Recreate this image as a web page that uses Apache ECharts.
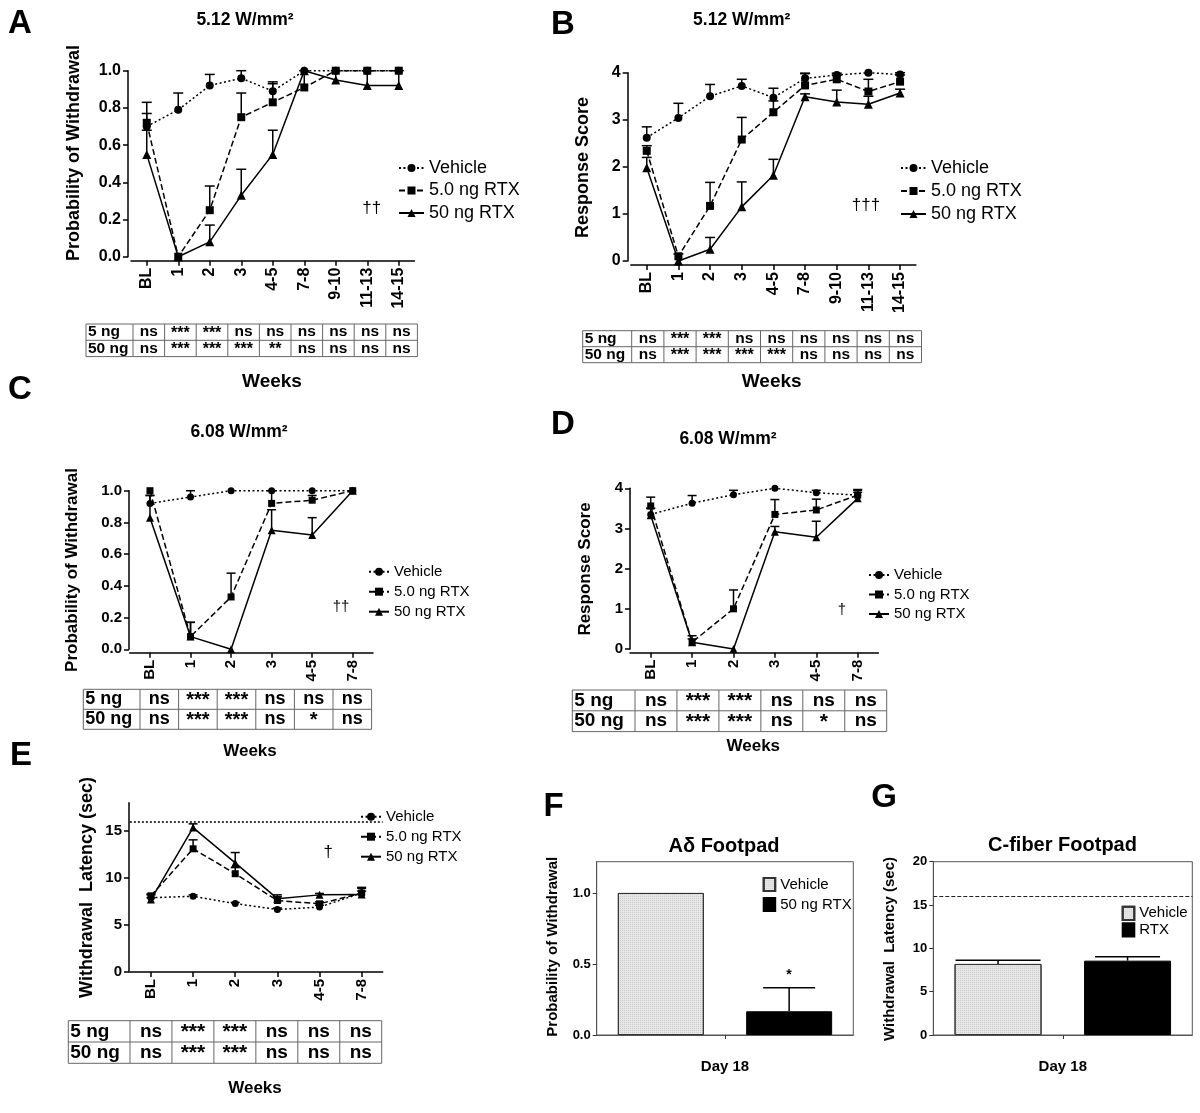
<!DOCTYPE html>
<html><head><meta charset="utf-8">
<script src="https://cdn.jsdelivr.net/npm/echarts@6/dist/echarts.min.js"></script>
<style>html,body{margin:0;padding:0;background:#fff}#c{width:1200px;height:1113px}</style>
</head><body><div id="c"></div>
<script>
// ================= DATA =================
const weeksLong = ['BL','1','2','3','4-5','7-8','9-10','11-13','14-15'];
const weeksShort = ['BL','1','2','3','4-5','7-8'];
const groupNames = ['Vehicle','5.0 ng RTX','50 ng RTX'];
const tableRowLabels = ['5 ng','50 ng'];

// Y tick labels
const probTicks = [0,0.2,0.4,0.6,0.8,1.0];
const scoreTicks = [0,1,2,3,4];
const latencyTicks = [0,5,10,15];
const F_ticks = [0,0.5,1.0];
const G_ticks = [0,5,10,15,20];

// Panel A – 5.12 W/mm², probability of withdrawal (mean, mean+SEM)
const A_vehicle    = [0.70,0.79,0.92,0.96,0.89,1.00,1.00,1.00,1.00];
const A_vehicleErr = [0.77,0.88,0.98,1.00,0.94,1.00,1.00,1.00,1.00];
const A_rtx5       = [0.72,0.00,0.25,0.75,0.83,0.91,1.00,1.00,1.00];
const A_rtx5Err    = [0.83,0.00,0.38,0.88,0.93,1.00,1.00,1.00,1.00];
const A_rtx50      = [0.55,0.00,0.08,0.33,0.55,1.00,0.95,0.92,0.92];
const A_rtx50Err   = [0.68,0.00,0.17,0.47,0.68,1.00,1.00,1.00,1.00];
const A_sig5  = ['ns','***','***','ns','ns','ns','ns','ns','ns'];
const A_sig50 = ['ns','***','***','***','**','ns','ns','ns','ns'];

// Panel B – 5.12 W/mm², response score
const B_vehicle    = [2.62,3.04,3.50,3.72,3.47,3.88,3.95,4.00,3.96];
const B_vehicleErr = [2.85,3.35,3.75,3.86,3.67,3.99,3.99,4.00,4.00];
const B_rtx5       = [2.34,0.10,1.17,2.58,3.16,3.73,3.86,3.60,3.81];
const B_rtx5Err    = [2.45,0.15,1.67,3.05,3.40,3.98,3.95,3.86,3.95];
const B_rtx50      = [1.98,0.00,0.25,1.15,1.82,3.49,3.38,3.33,3.57];
const B_rtx50Err   = [2.20,0.00,0.50,1.68,2.16,3.55,3.63,3.50,3.65];
const B_sig5  = ['ns','***','***','ns','ns','ns','ns','ns','ns'];
const B_sig50 = ['ns','***','***','***','***','ns','ns','ns','ns'];

// Panel C – 6.08 W/mm², probability of withdrawal
const C_vehicle    = [0.92,0.96,1.00,1.00,1.00,1.00];
const C_vehicleErr = [0.97,1.00,1.00,1.00,1.00,1.00];
const C_rtx5       = [1.00,0.08,0.33,0.92,0.94,1.00];
const C_rtx5Err    = [1.00,0.17,0.48,1.00,0.97,1.00];
const C_rtx50      = [0.83,0.08,0.00,0.75,0.72,1.00];
const C_rtx50Err   = [0.97,0.17,0.00,0.88,0.83,1.00];
const C_sig5  = ['ns','***','***','ns','ns','ns'];
const C_sig50 = ['ns','***','***','ns','*','ns'];

// Panel D – 6.08 W/mm², response score
const D_vehicle    = [3.35,3.63,3.84,4.00,3.89,3.83];
const D_vehicleErr = [3.50,3.82,3.95,4.00,3.95,3.95];
const D_rtx5       = [3.56,0.17,1.00,3.35,3.46,3.83];
const D_rtx5Err    = [3.78,0.33,1.47,3.72,3.73,3.97];
const D_rtx50      = [3.33,0.17,0.00,2.92,2.78,3.75];
const D_rtx50Err   = [3.50,0.25,0.00,3.05,3.18,3.90];
const D_sig5  = ['ns','***','***','ns','ns','ns'];
const D_sig50 = ['ns','***','***','ns','*','ns'];

// Panel E – withdrawal latency (sec)
const E_vehicle    = [7.90,8.05,7.27,6.65,6.90,8.40];
const E_vehicleErr = [8.20,8.20,7.40,6.80,7.10,8.60];
const E_rtx5       = [8.10,13.10,10.45,7.60,7.25,8.40];
const E_rtx5Err    = [8.30,14.05,11.10,8.00,7.45,8.90];
const E_rtx50      = [7.70,15.35,11.60,7.80,8.20,8.25];
const E_rtx50Err   = [7.90,15.75,12.70,8.20,8.35,9.00];
const E_cutoff = 16;
const E_sig5  = ['ns','***','***','ns','ns','ns'];
const E_sig50 = ['ns','***','***','ns','ns','ns'];

// Panel F – Aδ footpad, day 18
const F_groups = ['Vehicle','50 ng RTX'];
const F_values = [1.00, 0.167];
const F_errTop = [1.00, 0.333];
// Panel G – C-fiber footpad, day 18
const G_groups = ['Vehicle','RTX'];
const G_values = [8.20, 8.58];
const G_errTop = [8.62, 9.04];
const G_cutoff = 16;
const dayLabel = ['Day 18'];

// ================= STYLE / LAYOUT =================
const FONT = "'Liberation Sans', Arial, Helvetica, sans-serif";
const lineKinds = [
  {dash:[2,2.5], symbol:'circle'},
  {dash:[6,3], symbol:'rect'},
  {dash:'solid', symbol:'triangle'}
];
const linePanels = [
  {id:'A', cats:weeksLong, vals:[A_vehicle,A_rtx5,A_rtx50], errs:[A_vehicleErr,A_rtx5Err,A_rtx50Err], ticks:probTicks, dec:1,
   grid:{left:131,top:70.7,width:283.5,height:186}, yOff:3, xOff:4, font:16, sym:[8,8,9], cap:10,
   legend:{left:393,top:154,iw:25,font:18,lh:18,gap:4.5}},
  {id:'B', cats:weeksLong, vals:[B_vehicle,B_rtx5,B_rtx50], errs:[B_vehicleErr,B_rtx5Err,B_rtx50Err], ticks:scoreTicks, dec:0,
   grid:{left:630.9,top:72.7,width:285,height:188.3}, yOff:3.2, xOff:4, font:16, sym:[8,8,9], cap:10,
   legend:{left:895,top:154,iw:25,font:18,lh:18,gap:5}},
  {id:'C', cats:weeksShort, vals:[C_vehicle,C_rtx5,C_rtx50], errs:[C_vehicleErr,C_rtx5Err,C_rtx50Err], ticks:probTicks, dec:1,
   grid:{left:129.7,top:490.7,width:243.3,height:158.6}, yOff:0.7, xOff:3.5, font:15, sym:[7,7,8], cap:9,
   legend:{left:363,top:558.7,iw:20,font:15,lh:16,gap:4}},
  {id:'D', cats:weeksShort, vals:[D_vehicle,D_rtx5,D_rtx50], errs:[D_vehicleErr,D_rtx5Err,D_rtx50Err], ticks:scoreTicks, dec:0,
   grid:{left:630,top:488.3,width:248.4,height:160.7}, yOff:0, xOff:3.7, font:15, sym:[7,7,8], cap:9,
   legend:{left:863,top:562,iw:20,font:15,lh:16,gap:3.5}},
  {id:'E', cats:weeksShort, vals:[E_vehicle,E_rtx5,E_rtx50], errs:[E_vehicleErr,E_rtx5Err,E_rtx50Err], ticks:latencyTicks, dec:0, yMax:18,
   grid:{left:129.9,top:802.7,width:252.8,height:169.3}, yOff:0.9, xOff:0, font:15, sym:[7,7,8], cap:9,
   legend:{left:355,top:803.7,iw:20,font:15,lh:16,gap:4}, cutoff:E_cutoff}
];

function errRender(capW){
  return function(params, api){
    const lo = api.value(1), hi = api.value(2);
    if (!(hi > lo)) return null;
    const x = api.value(0);
    const p0 = api.coord([x, lo]), p1 = api.coord([x, hi]);
    const cw = Array.isArray(capW) ? capW[params.dataIndex] : capW;
    const st = {stroke:'#000', lineWidth:1.5, fill:null};
    return {type:'group', children:[
      {type:'line', shape:{x1:p0[0],y1:p0[1],x2:p1[0],y2:p1[1]}, style:st},
      {type:'line', shape:{x1:p1[0]-cw/2,y1:p1[1],x2:p1[0]+cw/2,y2:p1[1]}, style:st}
    ]};
  };
}

const grids = [], xAxes = [], yAxes = [], series = [], legends = [];
const axisText = (size) => ({color:'#000', fontFamily:FONT, fontWeight:'bold', fontSize:size});

linePanels.forEach((p, gi) => {
  grids.push(Object.assign({containLabel:false}, p.grid));
  xAxes.push({type:'category', gridIndex:gi, data:p.cats, boundaryGap:true, offset:p.xOff,
    axisLine:{show:true, onZero:false, lineStyle:{color:'#000', width:1.5}},
    axisTick:{show:true, alignWithLabel:true, length:5, lineStyle:{color:'#000', width:1.5}},
    axisLabel:Object.assign({rotate:90, margin:7, interval:0}, axisText(p.font)),
    splitLine:{show:false}});
  const yMax = p.yMax !== undefined ? p.yMax : p.ticks[p.ticks.length-1];
  yAxes.push({type:'value', gridIndex:gi, min:0, max:yMax, offset:p.yOff,
    axisLine:{show:true, onZero:false, lineStyle:{color:'#000', width:1.5}},
    axisTick:{show:true, length:5, customValues:p.ticks, lineStyle:{color:'#000', width:1.5}},
    axisLabel:Object.assign({margin:7, customValues:p.ticks, formatter:v => v.toFixed(p.dec)}, axisText(p.font)),
    splitLine:{show:false}});
  p.vals.forEach((vals, k) => {
    const s = {type:'line', name:p.id+'|'+groupNames[k], xAxisIndex:gi, yAxisIndex:gi, data:vals,
      symbol:lineKinds[k].symbol, symbolSize:p.sym[k], showSymbol:true,
      lineStyle:{color:'#000', width:1.5, type:lineKinds[k].dash}, itemStyle:{color:'#000'}, z:3};
    if (k === 0 && p.cutoff !== undefined) {
      s.markLine = {silent:true, symbol:'none', label:{show:false},
        lineStyle:{color:'#000', width:1.5, type:[2,2]}, data:[{yAxis:p.cutoff}]};
    }
    series.push(s);
    series.push({type:'custom', xAxisIndex:gi, yAxisIndex:gi, silent:true, z:2,
      renderItem:errRender(p.cap), encode:{x:0, y:[1,2]},
      data:vals.map((v,i)=>[i, v, p.errs[k][i]])});
  });
  legends.push({orient:'vertical', left:p.legend.left, top:p.legend.top, itemWidth:p.legend.iw, itemHeight:10,
    itemGap:p.legend.gap, selectedMode:false, data:groupNames.map(n => p.id+'|'+n),
    formatter:n => n.split('|')[1],
    textStyle:{color:'#000', fontFamily:FONT, fontSize:p.legend.font, lineHeight:p.legend.lh}});
});

// ---- Bar panels F and G ----
const barPanels = [
  {id:'F', groups:F_groups, vals:F_values, errTop:F_errTop, ticks:F_ticks, dec:1, yMax:1.22,
   grid:{left:596.7,top:861.7,width:256.6,height:173.3}, barW:86, caps:[0,52],
   legend:{left:757.7,top:871.5,iw:11.5,ih:13,gap:4,lh:16}},
  {id:'G', groups:G_groups, vals:G_values, errTop:G_errTop, ticks:G_ticks, dec:0, yMax:20,
   grid:{left:933.3,top:861.7,width:259,height:173.3}, barW:87, caps:[85,65], cutoff:G_cutoff,
   legend:{left:1116.7,top:900.3,iw:11.6,ih:13.3,gap:0.5,lh:16}}
];
const stipple = {symbol:'rect', symbolSize:1, color:'rgba(0,0,0,0.10)', dashArrayX:[1,1], dashArrayY:[1,1], rotation:0};
const barColors = [
  {color:'#e6e6e6', borderColor:'#333', borderWidth:1, decal:stipple},
  {color:'#000', borderColor:'#000', borderWidth:1}
];

barPanels.forEach((p, bi) => {
  const gi = grids.length;
  grids.push(Object.assign({show:true, borderColor:'#555', borderWidth:1, backgroundColor:'transparent'}, p.grid));
  xAxes.push({type:'category', gridIndex:gi, data:dayLabel, boundaryGap:true,
    axisLine:{show:true, onZero:false, lineStyle:{color:'#555', width:1}},
    axisTick:{show:true, alignWithLabel:true, length:4, lineStyle:{color:'#333', width:1}},
    axisLabel:Object.assign({margin:24}, axisText(15)), splitLine:{show:false}});
  const xBar = xAxes.length;
  xAxes.push({type:'category', gridIndex:gi, data:p.groups, boundaryGap:true, show:false});
  yAxes.push({type:'value', gridIndex:gi, min:0, max:p.yMax,
    axisLine:{show:true, onZero:false, lineStyle:{color:'#555', width:1}},
    axisTick:{show:true, length:4, customValues:p.ticks, lineStyle:{color:'#333', width:1}},
    axisLabel:Object.assign({margin:6, customValues:p.ticks, formatter:v => v.toFixed(p.dec)}, axisText(13)),
    splitLine:{show:false}});
  p.groups.forEach((g, k) => {
    const s = {type:'bar', name:p.id+'|'+g, xAxisIndex:xBar, yAxisIndex:gi, barWidth:p.barW, barGap:'-100%',
      data:p.vals.map((v,i)=> i===k ? v : '-'), itemStyle:barColors[k], z:2};
    if (k === 0 && p.cutoff !== undefined) {
      s.markLine = {silent:true, symbol:'none', label:{show:false},
        lineStyle:{color:'#222', width:1, type:[4,2]}, data:[{yAxis:p.cutoff}]};
    }
    series.push(s);
  });
  series.push({type:'custom', xAxisIndex:xBar, yAxisIndex:gi, silent:true, z:3,
    renderItem:errRender(p.caps), encode:{x:0, y:[1,2]},
    data:p.vals.map((v,i)=>[i, v, p.errTop[i]])});
  legends.push({orient:'vertical', left:p.legend.left, top:p.legend.top, itemWidth:p.legend.iw, itemHeight:p.legend.ih,
    itemGap:p.legend.gap, selectedMode:false, icon:'rect',
    data:p.groups.map(n => p.id+'|'+n), formatter:n => n.split('|')[1],
    textStyle:{color:'#000', fontFamily:FONT, fontSize:15, lineHeight:p.legend.lh}});
});

// ---- Annotations (letters, titles, axis names, tables) ----
const graphics = [];
function txt(text, x, y, size, opts){
  opts = opts || {};
  graphics.push({type:'text', x:x, y:y, rotation:opts.rot || 0, silent:true,
    style:{text:text, fill:'#000', fontFamily:FONT, fontSize:size, fontWeight:opts.normal ? 'normal' : 'bold',
      textAlign:opts.align || 'center', textVerticalAlign:'middle'}});
}
// panel letters
[['A',20,24],['B',563,25],['C',20,390],['D',563,425],['E',21,756],['F',553.5,806.7],['G',884,797.5]]
  .forEach(l => txt(l[0], l[1], l[2], 33));
// titles
txt('5.12 W/mm²', 245, 20, 17.5);
txt('5.12 W/mm²', 741.7, 20, 17.5);
txt('6.08 W/mm²', 239, 432.5, 17.5);
txt('6.08 W/mm²', 728, 439, 17.5);
txt('Aδ Footpad', 724, 846.7, 20);
txt('C-fiber Footpad', 1062.5, 845.5, 20);
// y axis names
const R = Math.PI/2;
txt('Probability of Withdrawal', 74, 153, 18, {rot:R});
txt('Response Score', 583, 167.5, 18, {rot:R});
txt('Probability of Withdrawal', 72.5, 570, 17, {rot:R});
txt('Response Score', 585, 569, 17, {rot:R});
txt('Withdrawal  Latency (sec)', 87, 887.5, 18, {rot:R});
txt('Probability of Withdrawal', 553, 946.7, 15, {rot:R});
txt('Withdrawal  Latency (sec)', 890, 949, 15, {rot:R});
// x axis names
txt('Weeks', 272, 382, 19);
txt('Weeks', 771.7, 381.7, 19);
txt('Weeks', 250, 751.7, 17);
txt('Weeks', 753.3, 746.7, 17);
txt('Weeks', 255, 1088.3, 17);
// significance daggers
txt('††', 371.7, 208, 17, {normal:true});
txt('†††', 866, 205, 17, {normal:true});
txt('††', 341, 606.7, 15, {normal:true});
txt('†', 842, 610, 15, {normal:true});
txt('†', 328.3, 852.5, 17, {normal:true});
txt('*', 789, 975, 14);

// tables
function table(t, rows){
  const n = rows[0].length;
  const W = t.firstW + n*t.cellW, H = rows.length*t.rowH;
  const st = {stroke:'#666', lineWidth:1, fill:null};
  graphics.push({type:'rect', silent:true, shape:{x:t.x, y:t.y, width:W, height:H}, style:{stroke:'#666', lineWidth:1, fill:'none'}});
  for (let r=1; r<rows.length; r++)
    graphics.push({type:'line', silent:true, shape:{x1:t.x, y1:t.y+r*t.rowH, x2:t.x+W, y2:t.y+r*t.rowH}, style:st});
  for (let c=0; c<n; c++) {
    const xx = t.x + t.firstW + c*t.cellW;
    graphics.push({type:'line', silent:true, shape:{x1:xx, y1:t.y, x2:xx, y2:t.y+H}, style:st});
  }
  rows.forEach((row, r) => {
    const cy = t.y + (r+0.5)*t.rowH;
    txt(tableRowLabels[r], t.x+2, cy, t.font, {align:'left'});
    row.forEach((cell, c) => {
      const cx = t.x + t.firstW + (c+0.5)*t.cellW;
      const star = cell.indexOf('*') >= 0;
      txt(cell, cx, star ? cy + t.starDy : cy, star ? t.starFont : t.font);
    });
  });
}
table({x:86, y:324, firstW:47, cellW:31.6, rowH:16.3, font:15.5, starFont:16, starDy:1}, [A_sig5, A_sig50]);
table({x:582.7, y:330.7, firstW:49, cellW:32.2, rowH:16, font:15.5, starFont:16, starDy:1}, [B_sig5, B_sig50]);
table({x:83.3, y:689.3, firstW:56.7, cellW:38.6, rowH:20, font:18, starFont:20, starDy:1}, [C_sig5, C_sig50]);
table({x:572.3, y:690, firstW:62.7, cellW:41.95, rowH:20.8, font:19, starFont:21, starDy:1}, [D_sig5, D_sig50]);
table({x:68.3, y:1020.7, firstW:61.7, cellW:41.95, rowH:21.3, font:19, starFont:21, starDy:1}, [E_sig5, E_sig50]);

const chart = echarts.init(document.getElementById('c'), null, {renderer:'canvas', width:1200, height:1113});
chart.setOption({
  backgroundColor:'#fff',
  animation:false,
  textStyle:{fontFamily:FONT},
  grid:grids, xAxis:xAxes, yAxis:yAxes, series:series, legend:legends,
  graphic:{elements:graphics}
});
</script></body></html>
